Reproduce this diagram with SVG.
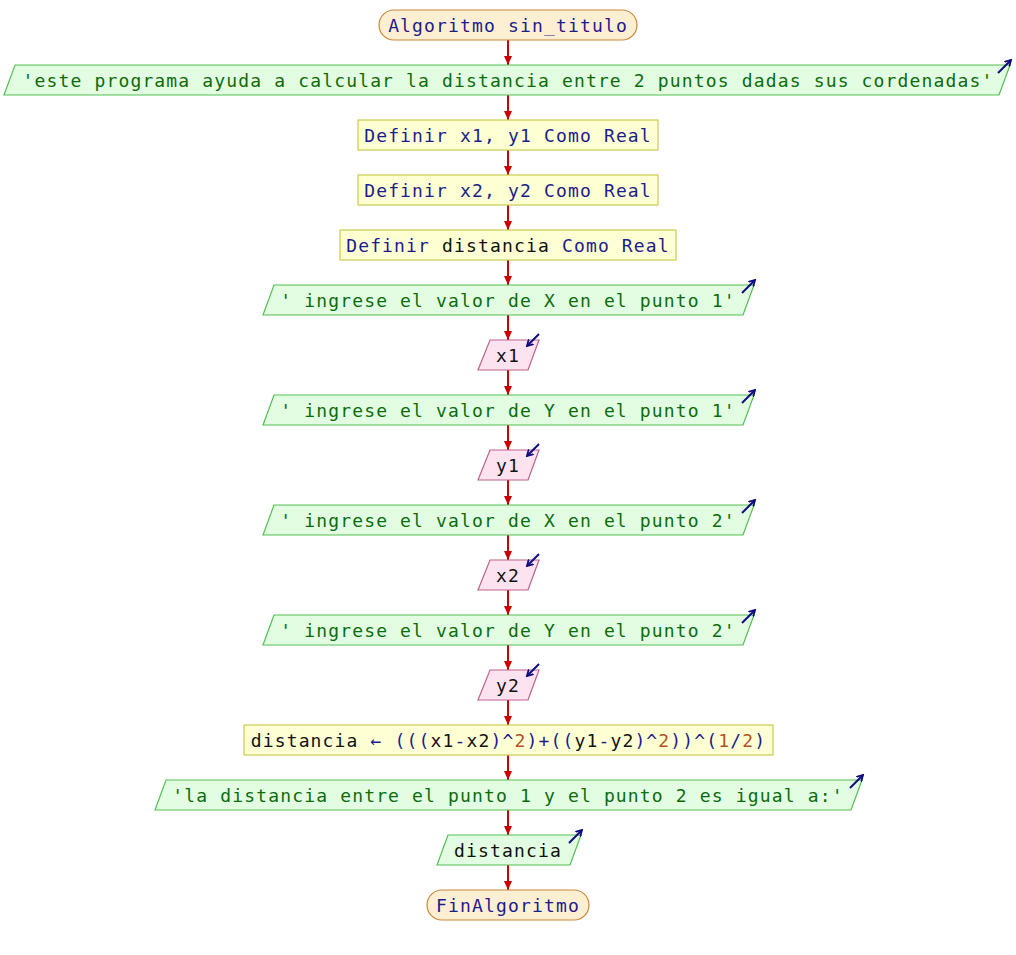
<svg xmlns="http://www.w3.org/2000/svg" width="1016" height="955" viewBox="0 0 1016 955">
<style>
text{font-family:"DejaVu Sans Mono","Liberation Mono",monospace;font-size:18px;letter-spacing:1.15px;text-anchor:middle}
.term{fill:#ffefd2;stroke:#c8883a;stroke-width:1.2}
.out{fill:#e2fde2;stroke:#52c052;stroke-width:1.2}
.proc{fill:#ffffd4;stroke:#caca52;stroke-width:1.2}
.inp{fill:#fde2f0;stroke:#c0608e;stroke-width:1.2}
.kw{fill:#1c1c8e}
.str{fill:#0c6c0c}
.var{fill:#111111}
.num{fill:#b0522a}
.con{stroke:#cc0000;stroke-width:2;fill:none;marker-end:url(#ah)}
.ico{stroke:#0c0c80;stroke-width:2;fill:none;marker-end:url(#ih)}
</style>
<defs>
<marker id="ah" markerWidth="10" markerHeight="10" refX="9" refY="5" orient="auto" markerUnits="userSpaceOnUse">
<path d="M0,1 L9,5 L0,9 Z" fill="#cc0000"/>
</marker>
<marker id="ih" markerWidth="8" markerHeight="8" refX="6" refY="4" orient="auto" markerUnits="userSpaceOnUse">
<path d="M0,0.5 L6,4 L0,7.5" fill="none" stroke="#0c0c80" stroke-width="1.8"/>
</marker>
</defs>
<rect width="1016" height="955" fill="#ffffff"/>
<g id="connectors">
<line class="con" x1="508" y1="40" x2="508" y2="65"/>
<line class="con" x1="508" y1="95" x2="508" y2="120"/>
<line class="con" x1="508" y1="150" x2="508" y2="175"/>
<line class="con" x1="508" y1="205" x2="508" y2="230"/>
<line class="con" x1="508" y1="260" x2="508" y2="285"/>
<line class="con" x1="508" y1="315" x2="508" y2="340"/>
<line class="con" x1="508" y1="370" x2="508" y2="395"/>
<line class="con" x1="508" y1="425" x2="508" y2="450"/>
<line class="con" x1="508" y1="480" x2="508" y2="505"/>
<line class="con" x1="508" y1="535" x2="508" y2="560"/>
<line class="con" x1="508" y1="590" x2="508" y2="615"/>
<line class="con" x1="508" y1="645" x2="508" y2="670"/>
<line class="con" x1="508" y1="700" x2="508" y2="725"/>
<line class="con" x1="508" y1="755" x2="508" y2="780"/>
<line class="con" x1="508" y1="810" x2="508" y2="835"/>
<line class="con" x1="508" y1="865" x2="508" y2="890"/>
</g>
<g id="start">
<rect class="term" x="379" y="10" width="258" height="30" rx="15" ry="15"/>
<text x="508" y="31.5" class="kw">Algoritmo sin_titulo</text>
</g>
<g id="out1">
<polygon class="out" points="15,65 1010,65 999,95 4,95"/>
<line class="ico" x1="998" y1="73" x2="1011" y2="60"/>
<text x="508" y="86.5" class="str">'este programa ayuda a calcular la distancia entre 2 puntos dadas sus cordenadas'</text>
</g>
<g id="def1">
<rect class="proc" x="358" y="120" width="300" height="30"/>
<text x="508" y="141.5" class="kw">Definir x1, y1 Como Real</text>
</g>
<g id="def2">
<rect class="proc" x="358" y="175" width="300" height="30"/>
<text x="508" y="196.5" class="kw">Definir x2, y2 Como Real</text>
</g>
<g id="def3">
<rect class="proc" x="340" y="230" width="336" height="30"/>
<text x="508" y="251.5" class="kw">Definir <tspan class="var">distancia</tspan> Como Real</text>
</g>
<g id="out2">
<polygon class="out" points="274,285 754,285 743,315 263,315"/>
<line class="ico" x1="742" y1="293" x2="755" y2="280"/>
<text x="508" y="306.5" class="str">' ingrese el valor de X en el punto 1'</text>
</g>
<g id="in1">
<polygon class="inp" points="490,340 539,340 528,370 478,370"/>
<line class="ico" x1="539" y1="334" x2="527" y2="346"/>
<text x="508" y="361.5" class="var">x1</text>
</g>
<g id="out3">
<polygon class="out" points="274,395 754,395 743,425 263,425"/>
<line class="ico" x1="742" y1="403" x2="755" y2="390"/>
<text x="508" y="416.5" class="str">' ingrese el valor de Y en el punto 1'</text>
</g>
<g id="in2">
<polygon class="inp" points="490,450 539,450 528,480 478,480"/>
<line class="ico" x1="539" y1="444" x2="527" y2="456"/>
<text x="508" y="471.5" class="var">y1</text>
</g>
<g id="out4">
<polygon class="out" points="274,505 754,505 743,535 263,535"/>
<line class="ico" x1="742" y1="513" x2="755" y2="500"/>
<text x="508" y="526.5" class="str">' ingrese el valor de X en el punto 2'</text>
</g>
<g id="in3">
<polygon class="inp" points="490,560 539,560 528,590 478,590"/>
<line class="ico" x1="539" y1="554" x2="527" y2="566"/>
<text x="508" y="581.5" class="var">x2</text>
</g>
<g id="out5">
<polygon class="out" points="274,615 754,615 743,645 263,645"/>
<line class="ico" x1="742" y1="623" x2="755" y2="610"/>
<text x="508" y="636.5" class="str">' ingrese el valor de Y en el punto 2'</text>
</g>
<g id="in4">
<polygon class="inp" points="490,670 539,670 528,700 478,700"/>
<line class="ico" x1="539" y1="664" x2="527" y2="676"/>
<text x="508" y="691.5" class="var">y2</text>
</g>
<g id="assign">
<rect class="proc" x="244" y="725" width="529" height="30"/>
<text x="508.5" y="746.5" class="kw"><tspan class="var">distancia</tspan> ← (((<tspan class="var">x1</tspan>-<tspan class="var">x2</tspan>)^<tspan class="num">2</tspan>)+((<tspan class="var">y1</tspan>-<tspan class="var">y2</tspan>)^<tspan class="num">2</tspan>))^(<tspan class="num">1</tspan>/<tspan class="num">2</tspan>)</text>
</g>
<g id="out6">
<polygon class="out" points="166,780 862,780 851,810 155,810"/>
<line class="ico" x1="850" y1="788" x2="863" y2="775"/>
<text x="508" y="801.5" class="str">'la distancia entre el punto 1 y el punto 2 es igual a:'</text>
</g>
<g id="out7">
<polygon class="out" points="448,835 581,835 570,865 437,865"/>
<line class="ico" x1="569" y1="843" x2="582" y2="830"/>
<text x="508" y="856.5" class="var">distancia</text>
</g>
<g id="end">
<rect class="term" x="427" y="890" width="162" height="30" rx="15" ry="15"/>
<text x="508" y="911.5" class="kw">FinAlgoritmo</text>
</g>
</svg>
